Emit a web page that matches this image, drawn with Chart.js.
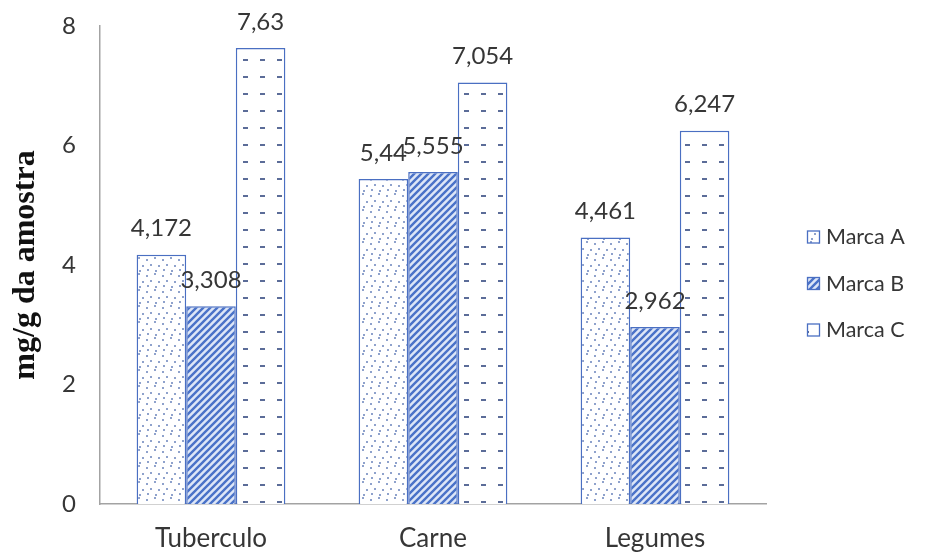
<!DOCTYPE html>
<html>
<head>
<meta charset="utf-8">
<script src="https://cdn.jsdelivr.net/npm/chart.js@4.4.1/dist/chart.umd.min.js"></script>
<style>
  html, body { margin: 0; padding: 0; background: #ffffff; }
  #wrap { width: 925px; height: 557px; position: relative; }
</style>
</head>
<body>
<div id="wrap"><canvas id="chart" width="925" height="557"></canvas></div>
<script>
// Categories and values (mg/g da amostra)
const categories = ['Tuberculo', 'Carne', 'Legumes'];
const seriesNames = ['Marca A', 'Marca B', 'Marca C'];
const marcaA = [4.172, 5.44, 4.461];
const marcaB = [3.308, 5.555, 2.962];
const marcaC = [7.63, 7.054, 6.247];
const yTicks = [0, 2, 4, 6, 8];

const BLUE = '#4a6fc2';
const TEXT = '#363636';
const FONT = "Lato, 'Open Sans', sans-serif";
const FONT_SIZE = 24;

// Fill patterns for the three brands
function makePattern(kind) {
  const c = document.createElement('canvas');
  const g = c.getContext('2d');
  if (kind === 'dots') {
    c.width = 16; c.height = 16;
    g.fillStyle = '#ffffff'; g.fillRect(0, 0, 16, 16);
    g.fillStyle = '#8fa2cc';
    [[2, 3], [10, 1], [6, 8], [14, 9], [3, 13], [11, 14]].forEach(([x, y]) => g.fillRect(x, y, 2, 2));
  } else if (kind === 'hatch') {
    c.width = 7; c.height = 7;
    g.fillStyle = '#dde6f7'; g.fillRect(0, 0, 7, 7);
    g.strokeStyle = '#4a72c8'; g.lineWidth = 2.4;
    g.beginPath();
    g.moveTo(-1, 8); g.lineTo(8, -1);
    g.moveTo(-4.5, 4.5); g.lineTo(4.5, -4.5);
    g.moveTo(2.5, 11.5); g.lineTo(11.5, 2.5);
    g.stroke();
  } else {
    c.width = 17; c.height = 17;
    g.fillStyle = '#ffffff'; g.fillRect(0, 0, 17, 17);
    g.fillStyle = '#5b6c98';
    g.fillRect(5, 8, 5, 2);
  }
  return g.createPattern(c, 'repeat');
}

const fills = [makePattern('dots'), makePattern('hatch'), makePattern('dashes')];
const seriesValues = [marcaA, marcaB, marcaC];

// Value labels above each bar, decimal comma
const valueLabels = {
  id: 'valueLabels',
  afterDatasetsDraw(chart) {
    const ctx = chart.ctx;
    ctx.save();
    ctx.font = FONT_SIZE + 'px ' + FONT;
    ctx.fillStyle = TEXT;
    ctx.textAlign = 'center';
    ctx.textBaseline = 'middle';
    chart.data.datasets.forEach((ds, i) => {
      chart.getDatasetMeta(i).data.forEach((bar, j) => {
        ctx.fillText(String(ds.data[j]).replace('.', ','), bar.x, bar.y - 26);
      });
    });
    ctx.restore();
  }
};

// Legend at the right of the plot, built from the dataset labels and fills
const sideLegend = {
  id: 'sideLegend',
  afterDraw(chart) {
    const ctx = chart.ctx;
    const area = chart.chartArea;
    const x0 = area.right + 41;
    const yMid = 283;
    const gap = 46.5;
    ctx.save();
    ctx.font = '21.5px ' + FONT;
    ctx.textBaseline = 'middle';
    chart.data.datasets.forEach((ds, i) => {
      const y = yMid + (i - 1) * gap;
      ctx.fillStyle = ds.backgroundColor;
      ctx.fillRect(x0, y - 6, 13, 13);
      ctx.strokeStyle = BLUE;
      ctx.lineWidth = 1.3;
      ctx.strokeRect(x0 + 0.5, y - 5.5, 12, 12);
      ctx.fillStyle = TEXT;
      ctx.fillText(ds.label, x0 + 19, y + 1);
    });
    ctx.restore();
  }
};

new Chart(document.getElementById('chart'), {
  type: 'bar',
  data: {
    labels: categories,
    datasets: seriesNames.map((name, i) => ({
      label: name,
      data: seriesValues[i],
      backgroundColor: fills[i],
      borderColor: BLUE,
      borderWidth: 1.5,
      borderSkipped: 'bottom',
      barPercentage: 1.0,
      categoryPercentage: 0.67
    }))
  },
  options: {
    responsive: false,
    animation: false,
    events: [],
    layout: { padding: { left: 0, right: 159, top: 26, bottom: 0 } },
    plugins: {
      legend: { display: false },
      tooltip: { enabled: false }
    },
    scales: {
      x: {
        grid: { display: false, drawTicks: false },
        border: { display: true, color: '#a3a3a3', width: 1.5 },
        ticks: { color: TEXT, font: { family: FONT, size: 26 }, padding: 19 },
        afterFit(s) { s.height = 53; s.paddingLeft = 0; s.paddingRight = 0; }
      },
      y: {
        min: 0, max: 8,
        afterBuildTicks(s) { s.ticks = yTicks.map(v => ({ value: v })); },
        grid: { display: false, drawTicks: false },
        border: { display: true, color: '#a3a3a3', width: 1.5 },
        ticks: { color: TEXT, font: { family: FONT, size: FONT_SIZE }, padding: 24 },
        title: {
          display: true,
          text: 'mg/g da amostra',
          color: '#111111',
          font: { family: "'Liberation Serif', 'DejaVu Serif', serif", size: 32, weight: 'bold' },
          padding: { top: 7, bottom: 0 }
        },
        afterFit(s) { s.width = 100; s.paddingTop = 0; s.paddingBottom = 0; }
      }
    }
  },
  plugins: [valueLabels, sideLegend]
});
</script>
</body>
</html>
